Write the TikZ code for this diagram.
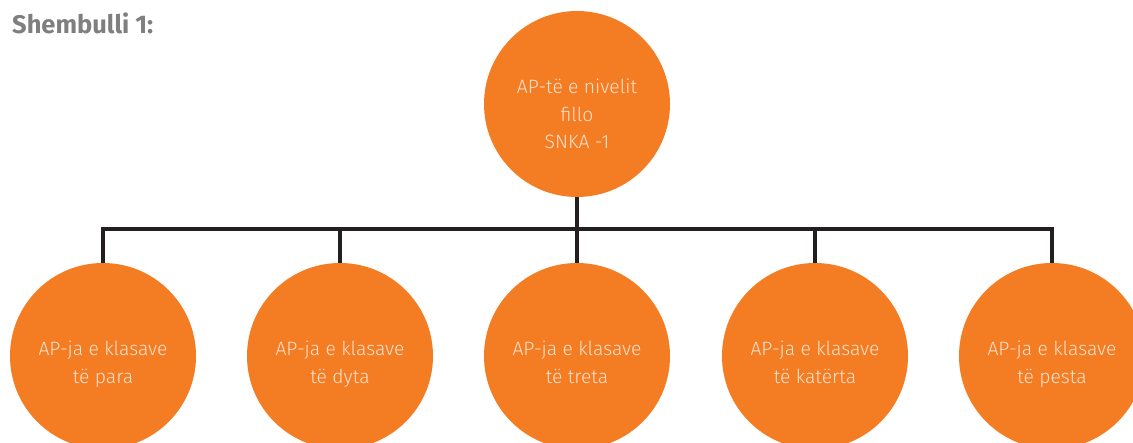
\documentclass[tikz,border=0pt]{standalone}
\usepackage{fontspec}
\setmainfont{Fira Sans}
\newfontfamily\circfont{Fira Sans Light}
\definecolor{orng}{HTML}{F47C22}
\definecolor{peach}{HTML}{FDE2CF}
\definecolor{ink}{HTML}{231F20}
\definecolor{titlegray}{HTML}{7F7F80}
\newcommand{\ctext}[2]{\raisebox{#1}[\height][\depth]{\begin{tabular}{@{}c@{}}#2\end{tabular}}}
\begin{document}
\begin{tikzpicture}[x=1pt,y=-1pt,
  circ/.style={circle,fill=orng,draw=none,minimum size=186pt,inner sep=0pt,
    text=peach,align=center,font=\circfont\fontsize{19.3}{27.5}\selectfont},
  wire/.style={draw=ink,line width=4pt}]
\useasboundingbox (0,0) rectangle (1133,443);
\node[anchor=base west,text=titlegray,font=\bfseries\fontsize{25.5}{30}\selectfont,inner sep=0pt] (title) at (12,34) {Shembulli 1:};
\node[circ] (top) at (577,104) {\ctext{-12pt}{AP-të e nivelit\\fillo\\SNKA -1}};
\node[circ] (c1) at (103,356) {\ctext{-8pt}{AP-ja e klasave\\të para}};
\node[circ] (c2) at (340,356) {\ctext{-8pt}{AP-ja e klasave\\të dyta}};
\node[circ] (c3) at (577,356) {\ctext{-8pt}{AP-ja e klasave\\të treta}};
\node[circ] (c4) at (815,356) {\ctext{-8pt}{AP-ja e klasave\\të katërta}};
\node[circ] (c5) at (1052,356) {\ctext{-8pt}{AP-ja e klasave\\të pesta}};
\coordinate (bus) at (577,229);
\draw[wire] (top.south) -- (top.south |- bus);
\draw[wire] (c1.north) -- (c1.north |- bus) -- (c5.north |- bus) -- (c5.north);
\draw[wire] (c2.north) -- (c2.north |- bus);
\draw[wire] (c3.north) -- (c3.north |- bus);
\draw[wire] (c4.north) -- (c4.north |- bus);
\end{tikzpicture}
\end{document}
